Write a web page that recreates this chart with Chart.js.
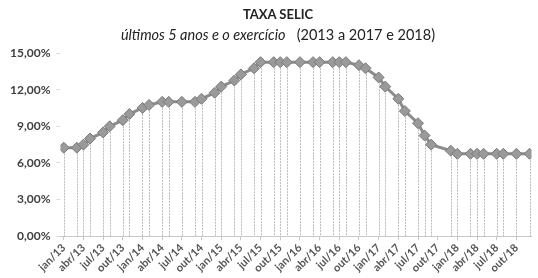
<!DOCTYPE html>
<html>
<head>
<meta charset="utf-8">
<script src="https://cdn.jsdelivr.net/npm/chart.js@4"></script>
<style>
  html, body { margin: 0; padding: 0; background: #fff; }
  #wrap { position: relative; width: 538px; height: 278px; }
  #titulo { position: absolute; left: 0; width: 556px; top: 6px; text-align: center;
            font: bold 13px Lato, sans-serif; color: #222; }
  #subtitulo { position: absolute; left: 0; width: 556px; top: 26px; text-align: center;
               font: 14.5px Lato, sans-serif; color: #222; white-space: pre; }
  #subtitulo i { font-style: italic; }
</style>
</head>
<body>
<div id="wrap">
  <canvas id="selicChart" width="538" height="278"></canvas>
  <div id="titulo">TAXA SELIC</div>
  <div id="subtitulo"><i>últimos 5 anos e o exercício</i>   (2013 a 2017 e 2018)</div>
</div>
<script>
// meses contados a partir de jan/13 (0 = jan/13) em que houve reunião do Copom
const mesesReuniao = [
  0, 2, 3, 4, 6, 7, 9, 10,
  12, 13, 15, 16, 18, 20, 21, 23,
  24, 26, 27, 29, 30, 32, 33, 34,
  36, 38, 39, 41, 42, 43, 45, 46,
  48, 49, 51, 52, 54, 55, 56, 59,
  60, 62, 63, 64, 66, 67, 69, 71
];
const taxaSelic = [
  7.25, 7.25, 7.50, 8.00, 8.50, 9.00, 9.50, 10.00,
  10.50, 10.75, 11.00, 11.00, 11.00, 11.00, 11.25, 11.75,
  12.25, 12.75, 13.25, 13.75, 14.25, 14.25, 14.25, 14.25,
  14.25, 14.25, 14.25, 14.25, 14.25, 14.25, 14.00, 13.75,
  13.00, 12.25, 11.25, 10.25, 9.25, 8.25, 7.50, 7.00,
  6.75, 6.75, 6.75, 6.75, 6.75, 6.75, 6.75, 6.75
];
const rotulosEixoX = [
  'jan/13', 'abr/13', 'jul/13', 'out/13',
  'jan/14', 'abr/14', 'jul/14', 'out/14',
  'jan/15', 'abr/15', 'jul/15', 'out/15',
  'jan/16', 'abr/16', 'jul/16', 'out/16',
  'jan/17', 'abr/17', 'jul/17', 'out/17',
  'jan/18', 'abr/18', 'jul/18', 'out/18'
];

const pontos = mesesReuniao.map((m, i) => ({x: m, y: taxaSelic[i]}));

// linhas verticais de cada ponto até o eixo
const linhasVerticais = {
  id: 'linhasVerticais',
  beforeDatasetsDraw(chart) {
    const ctx = chart.ctx;
    const xs = chart.scales.x, ys = chart.scales.y;
    const base = ys.getPixelForValue(0);
    ctx.save();
    ctx.strokeStyle = '#bcbcbc';
    ctx.lineWidth = 1;
    ctx.setLineDash([2, 1]);
    pontos.forEach(p => {
      const px = Math.round(xs.getPixelForValue(p.x)) + 0.5;
      ctx.beginPath();
      ctx.moveTo(px, ys.getPixelForValue(p.y));
      ctx.lineTo(px, base);
      ctx.stroke();
    });
    ctx.restore();
  }
};

Chart.defaults.font.family = 'Lato, sans-serif';
Chart.defaults.color = '#444';

new Chart(document.getElementById('selicChart').getContext('2d'), {
  type: 'line',
  data: {
    datasets: [{
      label: 'Taxa Selic',
      data: pontos,
      borderColor: '#8c8c8c',
      borderWidth: 3,
      pointStyle: 'rectRot',
      pointRadius: 5.5,
      pointBackgroundColor: '#9a9a9a',
      pointBorderColor: '#7a7a7a',
      pointBorderWidth: 1,
      tension: 0
    }]
  },
  options: {
    animation: false,
    responsive: false,
    layout: { padding: { top: 53, left: 4, right: 0, bottom: 2 } },
    plugins: { legend: { display: false }, tooltip: { enabled: false } },
    scales: {
      x: {
        type: 'linear',
        min: -0.5,
        max: 71.3,
        afterBuildTicks: axis => { axis.ticks = rotulosEixoX.map((_, i) => ({value: i * 3})); },
        ticks: {
          autoSkip: false,
          minRotation: 45,
          maxRotation: 45,
          padding: 1,
          font: { size: 11, weight: 'bold' },
          color: '#555',
          callback: v => rotulosEixoX[v / 3]
        },
        grid: { drawOnChartArea: false, drawTicks: true, tickLength: 4, tickColor: '#c8c8c8' },
        border: { color: '#c8c8c8' }
      },
      y: {
        min: 0,
        max: 15,
        ticks: {
          stepSize: 3,
          padding: 6,
          font: { size: 12, weight: 'bold' },
          color: '#404040',
          callback: v => v.toFixed(2).replace('.', ',') + '%'
        },
        grid: { drawOnChartArea: false, drawTicks: true, tickLength: 4, tickColor: '#d8d8d8' },
        border: { display: false }
      }
    }
  },
  plugins: [linhasVerticais]
});
</script>
</body>
</html>
